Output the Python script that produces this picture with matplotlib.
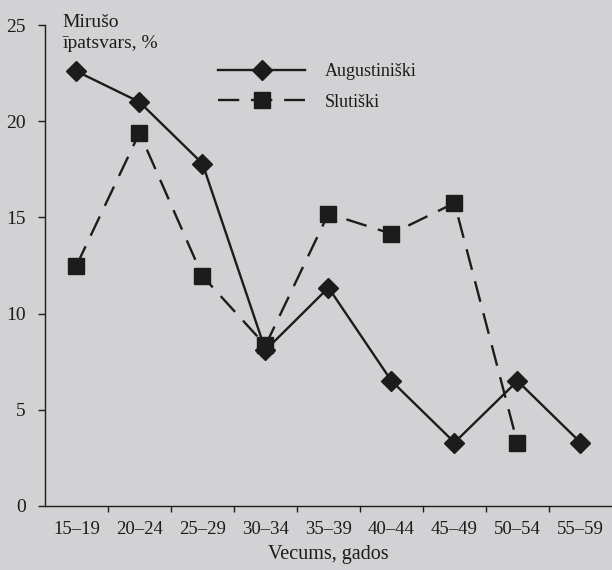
import matplotlib.pyplot as plt
import numpy as np

age_groups = ['15–19', '20–24', '25–29', '30–34', '35–39',
              '40–44', '45–49', '50–54', '55–59']
augustiniski = [22.6, 21.0, 17.8, 8.1, 11.35, 6.5, 3.3, 6.5, 3.3]
slutiski = [12.5, 19.4, 11.95, 8.35, 15.2, 14.15, 15.75, 3.25]
y_ticks = [0, 5, 10, 15, 20, 25]

plt.rcParams['font.family'] = ['Liberation Serif', 'DejaVu Serif']
bg = '#d2d2d4'
ink = '#1c1c1c'

fig = plt.figure(figsize=(6.12, 5.7), dpi=100, facecolor=bg)
ax = fig.add_axes([0.0735, 0.1123, 0.9265, 0.8437], facecolor=bg)

x_a = np.arange(len(augustiniski)) + 0.5
x_s = np.arange(len(slutiski)) + 0.5

ax.plot(x_a, augustiniski, color=ink, lw=1.7, marker='D', ms=10,
        mfc=ink, mec=ink, label='Augustiniški')
ax.plot(x_s, slutiski, color=ink, lw=1.7, ls=(0, (9, 5)), marker='s',
        ms=11, mfc=ink, mec=ink, label='Slutiški')

ax.set_xlim(0, 9)
ax.set_ylim(0, 25)

# labels centred on the groups, tick marks between groups
ax.set_xticks(x_a)
ax.set_xticklabels(age_groups, fontsize=13.5, color=ink)
ax.tick_params(axis='x', which='major', length=0, pad=11)
ax.set_xticks(np.arange(1, 9), minor=True)
ax.tick_params(axis='x', which='minor', length=4, width=1, color=ink,
               direction='out')

ax.set_yticks(y_ticks)
ax.set_yticklabels([str(v) for v in y_ticks], fontsize=14, color=ink)
ax.tick_params(axis='y', length=5, width=1, color=ink, pad=9)

for side in ['top', 'right']:
    ax.spines[side].set_visible(False)
for side in ['left', 'bottom']:
    ax.spines[side].set_color(ink)
    ax.spines[side].set_linewidth(1.0)

ax.set_xlabel('Vecums, gados', fontsize=14.5, color=ink, labelpad=5)
ax.text(0.27, 25.6, 'Mirušo\nīpatsvars, %', fontsize=14, color=ink,
        va='top', ha='left', linespacing=1.35)

leg = ax.legend(loc='upper left', bbox_to_anchor=(0.277, 0.955), frameon=False,
                fontsize=13, handlelength=4.8, handletextpad=1.1,
                labelspacing=0.75, labelcolor=ink)

fig.savefig('out.png', dpi=100, facecolor=bg)
